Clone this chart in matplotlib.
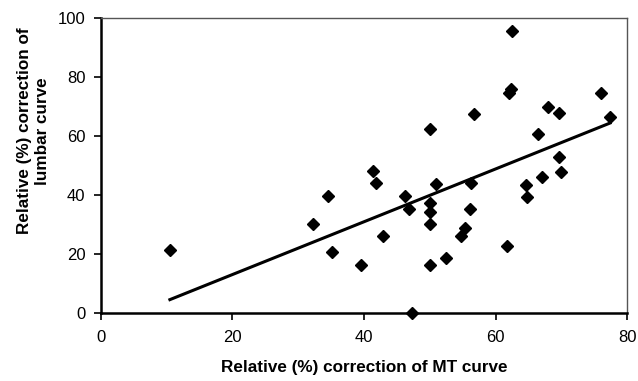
import matplotlib
matplotlib.use("Agg")
import matplotlib.pyplot as plt

plt.rcParams['font.family'] = ['Liberation Sans', 'DejaVu Sans']

# Relative (%) correction
mt_correction = [62.5, 62.0, 62.3, 76.0, 77.4, 67.9, 69.7, 56.7, 50.0, 66.4,
                 69.7, 69.9, 67.1, 64.7, 64.8, 56.2, 51.0, 41.4, 41.9, 46.3,
                 46.9, 50.1, 50.1, 50.1, 56.1, 55.4, 54.8, 52.5, 50.1, 39.6,
                 42.9, 35.2, 61.8, 47.3, 34.6, 10.5, 32.3]
lumbar_correction = [95.4, 74.6, 75.9, 74.7, 66.3, 69.7, 67.7, 67.3, 62.3, 60.7,
                     53.0, 47.8, 46.2, 43.4, 39.4, 44.0, 43.7, 48.2, 44.2, 39.7,
                     35.4, 37.2, 34.1, 30.1, 35.3, 28.7, 26.1, 18.7, 16.3, 16.3,
                     26.1, 20.6, 22.8, 0.0, 39.8, 21.4, 30.2]

# trend line as drawn in the reference
trend_slope = 0.894
trend_intercept = -4.8

fig = plt.figure(figsize=(6.38, 3.81), dpi=100)
ax = fig.add_axes([0.158, 0.178, 0.825, 0.775])

ax.plot(mt_correction, lumbar_correction, linestyle='none', marker='D',
        markersize=6.5, color='black', clip_on=False, zorder=3)

x0, x1 = min(mt_correction), max(mt_correction)
ax.plot([x0, x1], [trend_slope * x0 + trend_intercept, trend_slope * x1 + trend_intercept],
        color='black', linewidth=2.2)

ax.set_xlim(0, 80)
ax.set_ylim(0, 100)
ax.set_xticks(range(0, 81, 20))
ax.set_yticks(range(0, 101, 20))
ax.tick_params(axis='both', direction='out', length=5, width=1.2, labelsize=12, colors='black')
ax.tick_params(axis='x', pad=7)
ax.tick_params(axis='y', pad=6)

for side in ['left', 'bottom']:
    ax.spines[side].set_linewidth(1.8)
for side in ['top', 'right']:
    ax.spines[side].set_linewidth(1.0)
    ax.spines[side].set_color('#555555')

ax.set_xlabel('Relative (%) correction of MT curve', fontsize=12.3, fontweight='bold')
ax.set_ylabel('Relative (%) correction of\nlumbar curve', fontsize=12.3, fontweight='bold')
ax.xaxis.set_label_coords(0.5, -0.158)
ax.yaxis.set_label_coords(-0.097, 0.617)

plt.savefig('out.png', dpi=100)
